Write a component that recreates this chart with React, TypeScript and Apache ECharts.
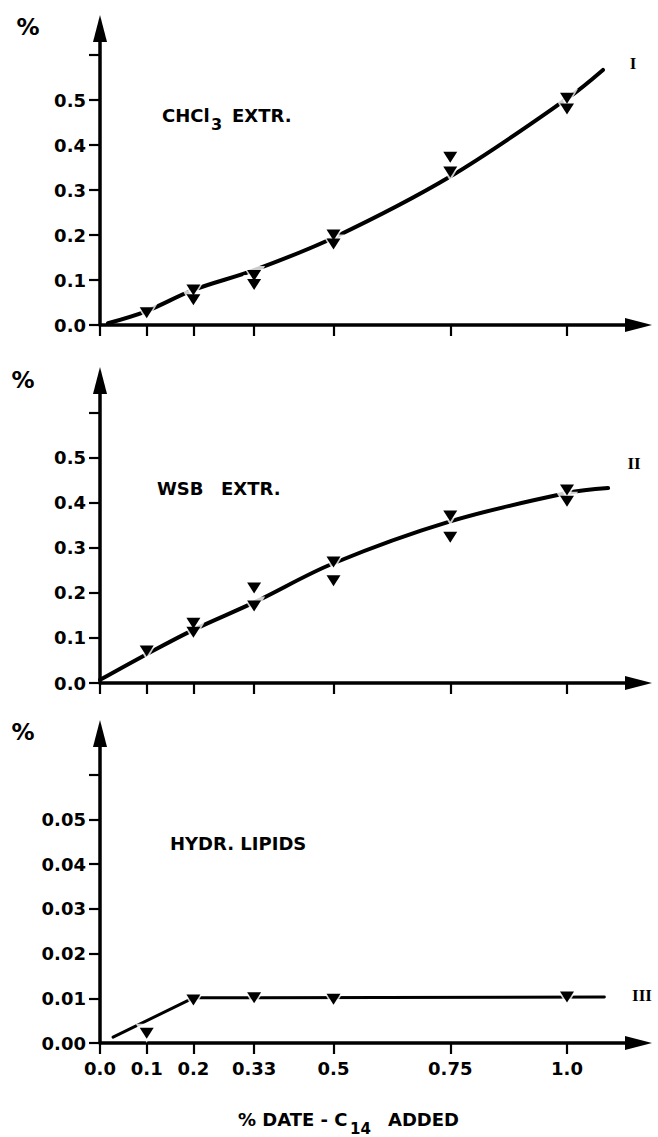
import React, { useEffect, useRef } from "react";
import * as echarts from "echarts";

// ---- axes ----
const xTickValues = [0, 0.1, 0.2, 0.33, 0.5, 0.75, 1.0];
const xTickLabels = ["0.0", "0.1", "0.2", "0.33", "0.5", "0.75", "1.0"];
const yTicksTop = [0, 0.1, 0.2, 0.3, 0.4, 0.5, 0.6];
const yLabelsTop = [0, 0.1, 0.2, 0.3, 0.4, 0.5];
const yTicksLip = [0, 0.01, 0.02, 0.03, 0.04, 0.05, 0.06];
const yLabelsLip = [0, 0.01, 0.02, 0.03, 0.04, 0.05];

// ---- Panel I : CHCl3 extract ----
const chclPointX = [0.1, 0.2, 0.2, 0.33, 0.33, 0.5, 0.5, 0.75, 0.75, 1.0, 1.0];
const chclPointY = [0.027, 0.078, 0.056, 0.11, 0.09, 0.2, 0.18, 0.373, 0.34, 0.504, 0.48];
const chclCurveX = [0.017, 0.1, 0.2, 0.33, 0.5, 0.75, 1.0, 1.077];
const chclCurveY = [0.004, 0.031, 0.078, 0.122, 0.194, 0.33, 0.503, 0.567];

// ---- Panel II : WSB extract ----
const wsbPointX = [0.1, 0.2, 0.2, 0.33, 0.33, 0.5, 0.5, 0.75, 0.75, 1.0, 1.0];
const wsbPointY = [0.071, 0.133, 0.113, 0.211, 0.171, 0.269, 0.227, 0.371, 0.324, 0.429, 0.404];
const wsbCurveX = [0.0, 0.1, 0.2, 0.33, 0.5, 0.75, 1.0, 1.088];
const wsbCurveY = [0.007, 0.064, 0.118, 0.179, 0.266, 0.359, 0.422, 0.433];

// ---- Panel III : hydrolysed lipids ----
const lipPointX = [0.1, 0.2, 0.33, 0.5, 1.0];
const lipPointY = [0.0022, 0.0096, 0.0101, 0.0098, 0.0103];
const lipCurveX = [0.028, 0.2, 1.08];
const lipCurveY = [0.0013, 0.0101, 0.0103];

const zip = (xs: number[], ys: number[]) => xs.map((x, i) => [x, ys[i]]);

const BLACK = "#000";
const NUM_FONT = "DejaVu Sans";
const X_MAX = 1.1531;

function xLabel(v: number) {
  let best = 0;
  xTickValues.forEach((t, i) => {
    if (Math.abs(t - v) < Math.abs(xTickValues[best] - v)) best = i;
  });
  return xTickLabels[best];
}

function makeX(gridIndex: number, showLabels: boolean) {
  return {
    type: "value",
    gridIndex,
    min: 0,
    max: X_MAX,
    axisLine: {
      show: true,
      onZero: false,
      symbol: ["none", "triangle"],
      symbolSize: [14, 27],
      lineStyle: { color: BLACK, width: 3.5 },
    },
    axisTick: {
      show: true,
      customValues: xTickValues,
      length: 11,
      lineStyle: { color: BLACK, width: 2.2 },
    },
    axisLabel: {
      show: showLabels,
      customValues: xTickValues,
      formatter: (v: number) => xLabel(v),
      margin: 16,
      color: BLACK,
      fontFamily: NUM_FONT,
      fontWeight: "bold",
      fontSize: 18,
    },
    splitLine: { show: false },
  };
}

function makeY(gridIndex: number, max: number, ticks: number[], labels: number[], digits: number) {
  return {
    type: "value",
    gridIndex,
    min: 0,
    max,
    axisLine: {
      show: true,
      onZero: false,
      symbol: ["none", "triangle"],
      symbolSize: [14, 27],
      lineStyle: { color: BLACK, width: 3.5 },
    },
    axisTick: {
      show: true,
      customValues: ticks,
      length: 11,
      lineStyle: { color: BLACK, width: 2.2 },
    },
    axisLabel: {
      show: true,
      customValues: labels,
      formatter: (v: number) => v.toFixed(digits),
      margin: 14,
      padding: [0, 0, 7, 0],
      color: BLACK,
      fontFamily: NUM_FONT,
      fontWeight: "bold",
      fontSize: 18,
    },
    splitLine: { show: false },
  };
}

function curve(idx: number, xs: number[], ys: number[], smooth: boolean, width: number) {
  return {
    type: "line",
    xAxisIndex: idx,
    yAxisIndex: idx,
    data: zip(xs, ys),
    smooth: smooth ? 0.35 : false,
    showSymbol: false,
    lineStyle: { color: BLACK, width, cap: "round" },
    z: 2,
  };
}

// white halo under each marker so the curve appears broken around it
function halo(idx: number, xs: number[], ys: number[]) {
  return {
    type: "scatter",
    xAxisIndex: idx,
    yAxisIndex: idx,
    data: zip(xs, ys),
    symbol: "triangle",
    symbolRotate: 180,
    symbolSize: [22, 19],
    itemStyle: { color: "#fff" },
    z: 3,
    silent: true,
  };
}

function markers(idx: number, xs: number[], ys: number[]) {
  return {
    type: "scatter",
    xAxisIndex: idx,
    yAxisIndex: idx,
    data: zip(xs, ys),
    symbol: "triangle",
    symbolRotate: 180,
    symbolSize: [14, 11],
    itemStyle: { color: BLACK, opacity: 1 },
    z: 4,
  };
}

function txt(text: string, x: number, y: number, size: number, opts: any = {}) {
  return {
    type: "text",
    x,
    y,
    style: {
      text,
      fill: BLACK,
      fontFamily: opts.family || NUM_FONT,
      fontWeight: "bold",
      fontSize: size,
      align: opts.align || "left",
      verticalAlign: "middle",
    },
  };
}

export default function App() {
  const ref = useRef<HTMLDivElement>(null);

  useEffect(() => {
    if (!ref.current) return;
    const chart = echarts.init(ref.current, null, { renderer: "svg" });
    const option: any = {
      animation: false,
      backgroundColor: "#fff",
      grid: [
        { left: 100, top: 28.5, width: 538.5, height: 296.5 },
        { left: 100, top: 380.5, width: 538.5, height: 302.5 },
        { left: 100, top: 733.5, width: 538.5, height: 309.5 },
      ],
      xAxis: [makeX(0, false), makeX(1, false), makeX(2, true)],
      yAxis: [
        makeY(0, 0.659, yTicksTop, yLabelsTop, 1),
        makeY(1, 0.672, yTicksTop, yLabelsTop, 1),
        makeY(2, 0.0692, yTicksLip, yLabelsLip, 2),
      ],
      series: [
        curve(0, chclCurveX, chclCurveY, true, 4),
        halo(0, chclPointX, chclPointY),
        markers(0, chclPointX, chclPointY),
        curve(1, wsbCurveX, wsbCurveY, true, 4),
        halo(1, wsbPointX, wsbPointY),
        markers(1, wsbPointX, wsbPointY),
        curve(2, lipCurveX, lipCurveY, false, 3),
        halo(2, lipPointX, lipPointY),
        markers(2, lipPointX, lipPointY),
      ],
      graphic: [
        txt("%", 28, 27, 23, { align: "center" }),
        txt("%", 23, 380, 23, { align: "center" }),
        txt("%", 23, 732, 23, { align: "center" }),
        // panel titles
        txt("CHCl", 162, 115, 18),
        txt("3", 211, 124, 16),
        txt("EXTR.", 232, 115, 18),
        txt("WSB", 157, 488, 18),
        txt("EXTR.", 221, 488, 18),
        txt("HYDR. LIPIDS", 170, 843, 18),
        // curve labels
        txt("I", 633, 63, 17, { align: "center", family: "Liberation Serif" }),
        txt("II", 634, 463, 17, { align: "center", family: "Liberation Serif" }),
        txt("III", 642, 995, 17, { align: "center", family: "Liberation Serif" }),
        // axis title
        txt("% DATE - C", 238, 1119, 18),
        txt("14", 350, 1129, 15),
        txt("ADDED", 388, 1119, 18),
      ],
    };
    chart.setOption(option);
    return () => chart.dispose();
  }, []);

  return (
    <div
      ref={ref}
      style={{ position: "absolute", left: 0, top: 0, width: 658, height: 1137, background: "#fff" }}
    />
  );
}
